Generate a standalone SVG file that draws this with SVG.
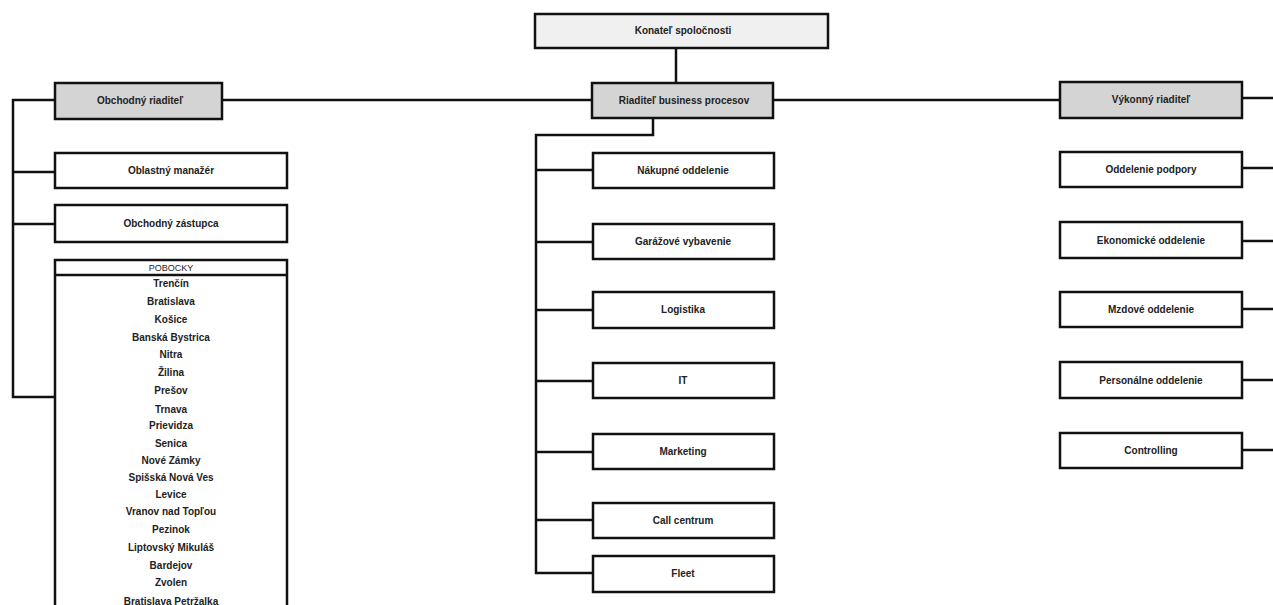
<svg xmlns="http://www.w3.org/2000/svg" width="1273" height="605" viewBox="0 0 1273 605">
<style>
.box{fill:#fff;stroke:#111;stroke-width:2.5}
.gray{fill:#d4d4d4;stroke:#111;stroke-width:2.5}
.top{fill:#f0f0f0;stroke:#111;stroke-width:2.5}
.t{font-family:"Liberation Sans",Arial,sans-serif;font-size:10px;font-weight:bold;fill:#222;text-anchor:middle}
.h{font-family:"Liberation Sans",Arial,sans-serif;font-size:9px;fill:#222;text-anchor:middle}
.c{fill:none;stroke:#111;stroke-width:2.5}
</style>
<rect width="1273" height="605" fill="#fff"/>
<g id="connectors">
<path class="c" d="M676 48V83"/>
<path class="c" d="M222 100H592M773 100H1060M1242 98H1273"/>
<path class="c" d="M55 100H13V397H55M13 172H55M13 224H55"/>
<path class="c" d="M653 118V135H536V573H593M536 170H593M536 242H593M536 310H593M536 381H593M536 452H593M536 520H593"/>
<path class="c" d="M1242 168H1273M1242 241H1273M1242 309H1273M1242 380H1273M1242 450H1273"/>
</g>
<g id="konatel"><rect class="top" x="535" y="14" width="293" height="34"/><text class="t" x="683" y="34">Konateľ spoločnosti</text></g>
<g id="riaditel-bp"><rect class="gray" x="592" y="83" width="181" height="35"/><text class="t" x="684" y="104">Riaditeľ business procesov</text></g>
<g id="obchodny-riaditel"><rect class="gray" x="55" y="83" width="167" height="36"/><text class="t" x="140" y="104">Obchodný riaditeľ</text></g>
<g id="vykonny-riaditel"><rect class="gray" x="1060" y="82" width="182" height="36"/><text class="t" x="1151" y="103">Výkonný riaditeľ</text></g>
<g id="oblastny"><rect class="box" x="55" y="153" width="232" height="35"/><text class="t" x="171" y="174">Oblastný manažér</text></g>
<g id="zastupca"><rect class="box" x="55" y="205" width="232" height="37"/><text class="t" x="171" y="227">Obchodný zástupca</text></g>
<g id="pobocky">
<rect class="box" x="55" y="260" width="232" height="360"/>
<path class="c" d="M55 275H287" stroke-width="2"/>
<text class="h" x="171" y="270.5">POBOCKY</text>
<text class="t" x="171" y="286.5">Trenčín</text>
<text class="t" x="171" y="304.5">Bratislava</text>
<text class="t" x="171" y="322.5">Košice</text>
<text class="t" x="171" y="340.5">Banská Bystrica</text>
<text class="t" x="171" y="358">Nitra</text>
<text class="t" x="171" y="376">Žilina</text>
<text class="t" x="171" y="393.5">Prešov</text>
<text class="t" x="171" y="412.5">Trnava</text>
<text class="t" x="171" y="429">Prievidza</text>
<text class="t" x="171" y="447">Senica</text>
<text class="t" x="171" y="464">Nové Zámky</text>
<text class="t" x="171" y="481">Spišská Nová Ves</text>
<text class="t" x="171" y="498">Levice</text>
<text class="t" x="171" y="515">Vranov nad Topľou</text>
<text class="t" x="171" y="533">Pezinok</text>
<text class="t" x="171" y="551">Liptovský Mikuláš</text>
<text class="t" x="171" y="569">Bardejov</text>
<text class="t" x="171" y="586">Zvolen</text>
<text class="t" x="171" y="605">Bratislava Petržalka</text>
</g>
<g id="nakupne"><rect class="box" x="593" y="153" width="181" height="35"/><text class="t" x="683" y="174">Nákupné oddelenie</text></g>
<g id="garazove"><rect class="box" x="593" y="224" width="181" height="35"/><text class="t" x="683" y="245">Garážové vybavenie</text></g>
<g id="logistika"><rect class="box" x="593" y="292" width="181" height="36"/><text class="t" x="683" y="313">Logistika</text></g>
<g id="it"><rect class="box" x="593" y="363" width="181" height="35"/><text class="t" x="683" y="384">IT</text></g>
<g id="marketing"><rect class="box" x="593" y="434" width="181" height="35"/><text class="t" x="683" y="455">Marketing</text></g>
<g id="callcentrum"><rect class="box" x="593" y="503" width="181" height="35"/><text class="t" x="683" y="524">Call centrum</text></g>
<g id="fleet"><rect class="box" x="593" y="556" width="181" height="36"/><text class="t" x="683" y="577">Fleet</text></g>
<g id="podpora"><rect class="box" x="1060" y="152" width="182" height="35"/><text class="t" x="1151" y="173">Oddelenie podpory</text></g>
<g id="ekonomicke"><rect class="box" x="1060" y="222" width="182" height="36"/><text class="t" x="1151" y="244">Ekonomické oddelenie</text></g>
<g id="mzdove"><rect class="box" x="1060" y="292" width="182" height="35"/><text class="t" x="1151" y="313">Mzdové oddelenie</text></g>
<g id="personalne"><rect class="box" x="1060" y="362" width="182" height="36"/><text class="t" x="1151" y="384">Personálne oddelenie</text></g>
<g id="controlling"><rect class="box" x="1060" y="433" width="182" height="35"/><text class="t" x="1151" y="454">Controlling</text></g>
</svg>
